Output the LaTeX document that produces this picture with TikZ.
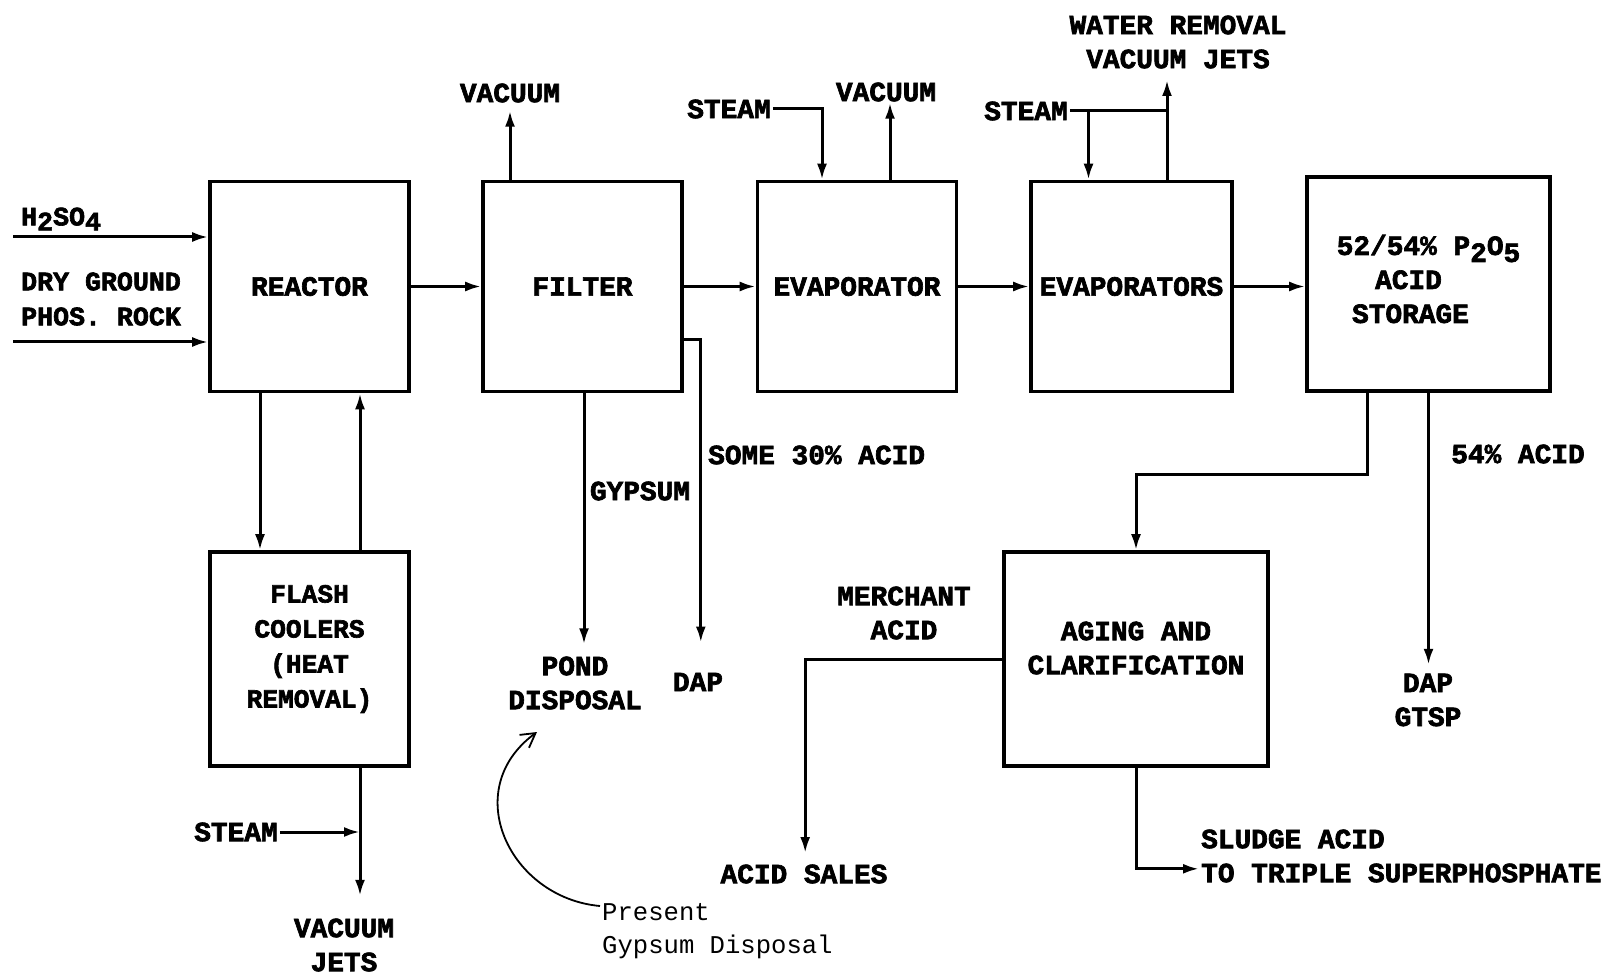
\documentclass[tikz,border=0pt]{standalone}
\usepackage{fontspec}
\setmonofont{Liberation Mono}[BoldFeatures={FakeBold=2.4}]
\usetikzlibrary{arrows.meta,positioning}

\begin{document}
\begin{tikzpicture}[x=1pt,y=-1pt,
  unit/.style={draw, line width=3.6pt, minimum width=199pt, minimum height=210pt, align=center, inner sep=2pt,
    font=\ttfamily\bfseries\fontsize{27.8}{34}\selectfont},
  lbl/.style={font=\ttfamily\bfseries\fontsize{27.8}{34}\selectfont, align=center, inner sep=2pt},
  feed/.style={lbl, font=\ttfamily\bfseries\fontsize{26.6}{35}\selectfont},
  note/.style={font=\ttfamily\fontsize{25.6}{33}\selectfont, align=left, inner sep=2pt},
  flow/.style={-{Latex[length=16pt,width=10pt]}, line width=3pt},
  pipe/.style={line width=3pt},
  remark/.style={-{Straight Barb[length=14pt,width=16pt]}, line width=1.8pt}]
  \useasboundingbox (0,0) rectangle (1612,976);
  % process units
  \node[unit] (reactor) at (309.5,286.5) {REACTOR};
  \node[unit] (filter) at (582.5,286.5) {FILTER};
  \node[unit] (evap) at (857,286.5) {EVAPORATOR};
  \node[unit, minimum width=201pt] (evaps) at (1131.5,286.5) {EVAPORATORS};
  \node[unit, minimum width=243pt, minimum height=214pt,
    label={[lbl, yshift=5pt]center:{52/54\% P\raisebox{-7pt}{2}O\raisebox{-7pt}{5}\\ACID\kern40pt\\STORAGE\kern36pt}}]
    (storage) at (1428.5,284) {};
  \node[unit, minimum height=214pt,
    label={[lbl, yshift=10pt, font=\ttfamily\bfseries\fontsize{26.2}{35}\selectfont]center:{FLASH\\COOLERS\\(HEAT\\REMOVAL)}}]
    (flash) at (309.5,659) {};
  \node[unit, minimum width=264pt, minimum height=214pt,
    label={[lbl, yshift=11pt]center:{AGING AND\\CLARIFICATION}}] (aging) at (1136,659) {};
  % stream labels
  \node[feed, anchor=west] (h2so4) at (19,219) {H\raisebox{-5pt}{2}SO\raisebox{-5pt}{4}};
  \node[feed, anchor=west, align=left] (rock) at (19,299) {DRY GROUND\\PHOS. ROCK};
  \node[lbl] (vacF) at (510,93) {VACUUM};
  \node[lbl] (steamE) at (729,109) {STEAM};
  \node[lbl] (vacE) at (886,92) {VACUUM};
  \node[lbl] (steamV) at (1026,111) {STEAM};
  \node[lbl] (water) at (1178,42) {WATER REMOVAL\\VACUUM JETS};
  \node[lbl, anchor=west] (acid30) at (706,455) {SOME 30\% ACID};
  \node[lbl] (gyps) at (640,491) {GYPSUM};
  \node[lbl] (pond) at (575,683) {POND\\DISPOSAL};
  \node[lbl] (dapF) at (698,682) {DAP};
  \node[lbl] (acid54) at (1518,454) {54\% ACID};
  \node[lbl] (dapS) at (1428,700) {DAP\\GTSP};
  \node[lbl] (merch) at (904,613) {MERCHANT\\ACID};
  \node[lbl] (sales) at (804,874) {ACID SALES};
  \node[lbl, anchor=west, align=left] (sludge) at (1199,856) {SLUDGE ACID\\TO TRIPLE SUPERPHOSPHATE};
  \node[lbl] (steamF) at (236,832) {STEAM};
  \node[lbl] (jets) at (344,945) {VACUUM\\JETS};
  \node[note, anchor=west] (present) at (600,931) {Present\\Gypsum Disposal};
  % free ends
  \coordinate (h2in) at (13,237);
  \coordinate (rockin) at (13,342);
  \coordinate (wj) at (1167,80);
  \coordinate (sv) at ([xshift=-43pt]evaps.north);
  \coordinate (vj) at ([xshift=50.5pt]flash.south);
  \coordinate (ptip) at (537,732);
  % main train
  \draw[flow] (h2in) -- (h2in -| reactor.west);
  \draw[flow] (rockin) -- (rockin -| reactor.west);
  \draw[flow] (reactor) -- (filter);
  \draw[flow] (filter) -- (evap);
  \draw[flow] (evap) -- (evaps);
  \draw[flow] (evaps.east) -- (evaps.east -| storage.west);
  % utilities on top
  \draw[flow] (filter.north -| vacF) -- ++(0,-69);
  \draw[flow] (steamE.east) -| ([xshift=-35pt]evap.north);
  \draw[flow] ([xshift=33pt]evap.north) -- ++(0,-77);
  \draw[flow] (evaps.north -| wj) -- (wj);
  \draw[pipe] (steamV.east) -- (steamV.east -| wj);
  \draw[flow] (sv |- steamV.east) -- (sv);
  % reactor loop and jets
  \draw[flow] ([xshift=-49.5pt]reactor.south) -- ([xshift=-49.5pt]flash.north);
  \draw[flow] ([xshift=50.5pt]flash.north) -- ([xshift=50.5pt]reactor.south);
  \draw[flow] (vj) -- ++(0,128);
  \draw[flow] (steamF.east) -- (steamF.east -| vj);
  % filter outlets
  \draw[flow] ([xshift=1.5pt]filter.south) -- ++(0,251);
  \draw[flow] ([yshift=-53pt]filter.east) -- ++(17,0) -- ++(0,303);
  % storage outlets
  \draw[flow] ([xshift=-61pt]storage.south) -- ++(0,82) -| (aging.north);
  \draw[flow] (storage.south) -- ++(0,272);
  \draw[flow] (aging.west) -- ++(-197,0) -- ++(0,194);
  \draw[flow] (aging.south) -- ++(0,101) -- ++(63,0);
  % note
  \draw[remark] ([yshift=25pt]present.west) .. controls (510,898) and (458,790) .. (ptip);
\end{tikzpicture}
\end{document}
